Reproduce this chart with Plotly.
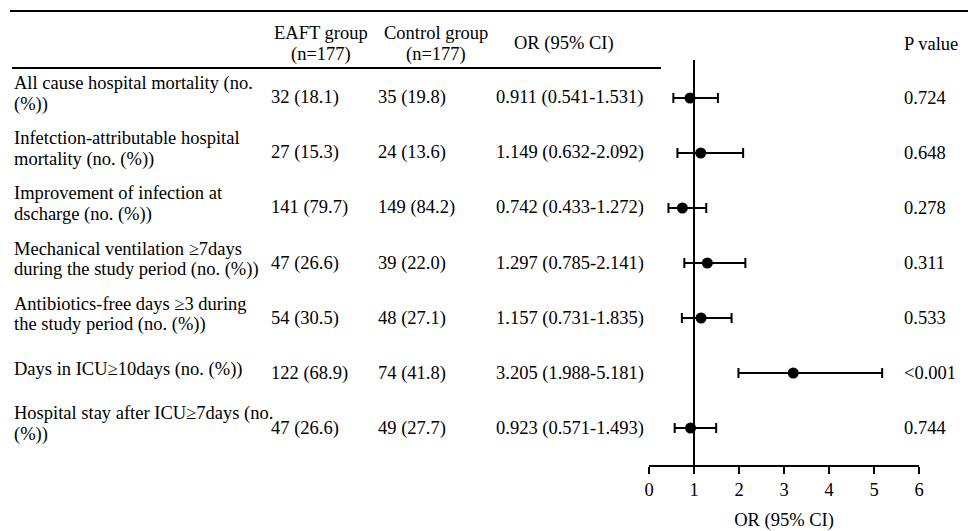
import plotly.graph_objects as go

# ---------------- data ----------------
labels = [
    "All cause hospital mortality (no.<br>(%))",
    "Infetction-attributable hospital<br>mortality (no. (%))",
    "Improvement of infection at<br>dscharge (no. (%))",
    "Mechanical ventilation ≥7days<br>during the study period (no. (%))",
    "Antibiotics-free days ≥3 during<br>the study period (no. (%))",
    "Days in ICU≥10days (no. (%))",
    "Hospital stay after ICU≥7days (no.<br>(%))",
]
eaft = ["32 (18.1)", "27 (15.3)", "141 (79.7)", "47 (26.6)", "54 (30.5)", "122 (68.9)", "47 (26.6)"]
control = ["35 (19.8)", "24 (13.6)", "149 (84.2)", "39 (22.0)", "48 (27.1)", "74 (41.8)", "49 (27.7)"]
or_est = [0.911, 1.149, 0.742, 1.297, 1.157, 3.205, 0.923]
ci_low = [0.541, 0.632, 0.433, 0.785, 0.731, 1.988, 0.571]
ci_high = [1.531, 2.092, 1.272, 2.141, 1.835, 5.181, 1.493]
p_values = ["0.724", "0.648", "0.278", "0.311", "0.533", "<0.001", "0.744"]
headers = ["EAFT group<br>(n=177)", "Control group<br>(n=177)", "OR (95% CI)", "P value"]
x_ticks = [0, 1, 2, 3, 4, 5, 6]

# ---------------- layout constants (pixels) ----------------
W, H = 968, 531
FONT = "Liberation Serif"
FS = 18.5
LINE_GAP = 21
row_pos = list(range(len(labels)))
ROW0_PX, ROW_STEP = 98, 55
PLOT_TOP_PX, AXIS_PX = 60, 465
X0_PX, X6_PX = 649, 919

y_top = (PLOT_TOP_PX - ROW0_PX) / ROW_STEP
y_bot = (AXIS_PX - ROW0_PX) / ROW_STEP

def px(x):
    return x / W

def py(y):
    return 1 - y / H

fig = go.Figure()

fig.add_trace(go.Scatter(
    x=or_est, y=row_pos, mode="markers",
    marker=dict(symbol="circle", size=11, color="black"),
    error_x=dict(
        type="data", symmetric=False,
        array=[h - o for h, o in zip(ci_high, or_est)],
        arrayminus=[o - l for o, l in zip(or_est, ci_low)],
        color="black", thickness=2, width=5,
    ),
    showlegend=False, hoverinfo="skip",
))

annotations = []
tfont = dict(family=FONT, size=FS, color="black")


def multiline(text, x, y, yref, xanchor, base_shift):
    lines = text.split("<br>")
    n = len(lines)
    out = []
    for k, ln in enumerate(lines):
        shift = base_shift + ((n - 1) / 2 - k) * LINE_GAP
        out.append(dict(x=x, y=y, xref="paper", yref=yref, text=ln, showarrow=False,
                        xanchor=xanchor, yanchor="middle", font=tfont, yshift=shift))
    return out


# headers
header_x = [(321, "center"), (436, "center"), (564, "center"), (902, "left")]
for (hx, anc), h in zip(header_x, headers):
    annotations += multiline(h, px(hx), py(44), "paper", anc, 0)

for i, r in enumerate(row_pos):
    or_txt = f"{or_est[i]:.3f} ({ci_low[i]:.3f}-{ci_high[i]:.3f})"
    annotations += multiline(labels[i], px(12), r, "y", "left", 4)
    for xp, t in [(269, eaft[i]), (376, control[i]), (494, or_txt), (902, p_values[i])]:
        annotations.append(dict(x=px(xp), y=r, xref="paper", yref="y", text=t,
                                showarrow=False, xanchor="left", yanchor="middle", font=tfont))

shapes = [
    dict(type="line", xref="paper", yref="paper", x0=px(10), x1=1, y0=py(11), y1=py(11),
         line=dict(color="black", width=2)),
    dict(type="line", xref="paper", yref="paper", x0=px(12), x1=px(661), y0=py(68), y1=py(68),
         line=dict(color="black", width=2)),
    dict(type="line", xref="x", yref="y domain", x0=1, x1=1, y0=0, y1=1,
         line=dict(color="black", width=2)),
]

fig.update_layout(
    width=W, height=H,
    margin=dict(l=0, r=0, t=0, b=0),
    paper_bgcolor="white", plot_bgcolor="white",
    font=tfont,
    annotations=annotations,
    shapes=shapes,
    xaxis=dict(
        domain=[px(X0_PX), px(X6_PX)], range=[0, 6],
        tickvals=x_ticks, ticktext=[str(v) for v in x_ticks],
        showline=True, linecolor="black", linewidth=2,
        ticks="outside", ticklen=7, tickwidth=2, tickcolor="black",
        showgrid=False, zeroline=False,
        tickfont=dict(family=FONT, size=FS, color="black"),
        title=dict(text="OR (95% CI)", font=dict(family=FONT, size=FS, color="black"), standoff=19),
        automargin=False, fixedrange=True,
    ),
    yaxis=dict(
        domain=[py(AXIS_PX), py(PLOT_TOP_PX)], range=[y_bot, y_top],
        visible=False, showgrid=False, zeroline=False, automargin=False,
    ),
)

fig.write_html("out.html")
